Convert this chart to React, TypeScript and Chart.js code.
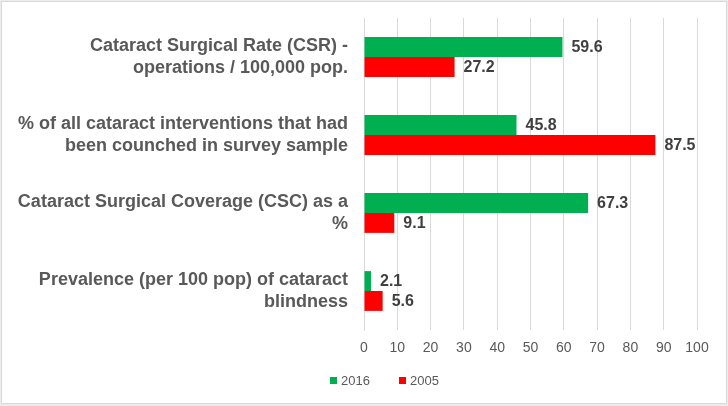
import React, { useEffect, useRef } from "react";
import { Chart, registerables } from "chart.js";

Chart.register(...registerables);

const categories: string[][] = [
  ["Cataract Surgical Rate (CSR) -", "operations / 100,000 pop."],
  ["% of all cataract interventions that had", "been counched in survey sample"],
  ["Cataract Surgical Coverage (CSC) as a", "%"],
  ["Prevalence (per 100 pop) of cataract", "blindness"],
];
const values2016: number[] = [59.6, 45.8, 67.3, 2.1];
const values2005: number[] = [27.2, 87.5, 9.1, 5.6];
const seriesLabels: string[] = ["2016", "2005"];
const seriesColors: string[] = ["#00B050", "#FF0000"];

const FONT = "'Liberation Sans', Arial, sans-serif";

const framePlugin = {
  id: "frame",
  beforeDraw(chart: any) {
    const ctx = chart.ctx;
    ctx.save();
    ctx.fillStyle = "#ececec";
    ctx.fillRect(0, 0, chart.width, chart.height);
    ctx.fillStyle = "#ffffff";
    ctx.fillRect(2, 2, chart.width - 4, chart.height - 5);
    ctx.strokeStyle = "#d9d9d9";
    ctx.lineWidth = 1;
    ctx.strokeRect(1.5, 1.5, chart.width - 3, chart.height - 4);
    ctx.restore();
  },
};

const valueLabelPlugin = {
  id: "valueLabels",
  afterDatasetsDraw(chart: any) {
    const ctx = chart.ctx;
    ctx.save();
    ctx.font = `bold 16px ${FONT}`;
    ctx.fillStyle = "#404040";
    ctx.textAlign = "left";
    ctx.textBaseline = "middle";
    chart.data.datasets.forEach((ds: any, di: number) => {
      const meta = chart.getDatasetMeta(di);
      meta.data.forEach((bar: any, i: number) => {
        const v = ds.data[i];
        ctx.fillText(v.toFixed(1), bar.x + 9, bar.y + 1);
      });
    });
    ctx.restore();
  },
};

const legendPlugin = {
  id: "customLegend",
  afterDraw(chart: any) {
    const ctx = chart.ctx;
    ctx.save();
    ctx.font = `13px ${FONT}`;
    ctx.textBaseline = "middle";
    ctx.textAlign = "left";
    const y = 381;
    const starts = [330, 399];
    seriesLabels.forEach((lab, i) => {
      ctx.fillStyle = seriesColors[i];
      ctx.fillRect(starts[i], y - 4, 7, 7);
      ctx.fillStyle = "#595959";
      ctx.fillText(lab, starts[i] + 11, y);
    });
    ctx.restore();
  },
};

export default function App() {
  const ref = useRef<HTMLCanvasElement>(null);
  useEffect(() => {
    document.body.style.margin = "0";
    const chart = new Chart(ref.current!, {
      type: "bar",
      data: {
        labels: categories,
        datasets: [
          {
            label: seriesLabels[0],
            data: values2016,
            backgroundColor: seriesColors[0],
            categoryPercentage: 0.51,
            barPercentage: 1.0,
          },
          {
            label: seriesLabels[1],
            data: values2005,
            backgroundColor: seriesColors[1],
            categoryPercentage: 0.51,
            barPercentage: 1.0,
          },
        ],
      },
      options: {
        indexAxis: "y",
        animation: false,
        responsive: false,
        maintainAspectRatio: false,
        layout: { padding: { top: 18, right: 31, bottom: 0, left: 0 } },
        plugins: {
          legend: { display: false },
          tooltip: { enabled: false },
        },
        scales: {
          x: {
            min: 0,
            max: 100,
            ticks: {
              stepSize: 10,
              color: "#595959",
              font: { family: FONT, size: 14 },
              padding: 10,
            },
            grid: { color: "#d9d9d9", drawTicks: false },
            border: { display: false },
            afterFit(scale: any) {
              scale.height = 76;
              scale.paddingLeft = 0;
              scale.paddingRight = 0;
            },
          },
          y: {
            ticks: {
              color: "#595959",
              font: { family: FONT, size: 18, weight: "bold", lineHeight: 1.27 },
              padding: 16,
            },
            grid: { display: false, drawTicks: false },
            border: { display: true, color: "#d9d9d9" },
            afterFit(scale: any) {
              scale.width = 364;
              scale.paddingTop = 0;
              scale.paddingBottom = 0;
            },
          },
        },
      },
      plugins: [framePlugin, valueLabelPlugin, legendPlugin],
    } as any);
    return () => chart.destroy();
  }, []);
  return <canvas ref={ref} width={728} height={406} style={{ display: "block" }} />;
}
